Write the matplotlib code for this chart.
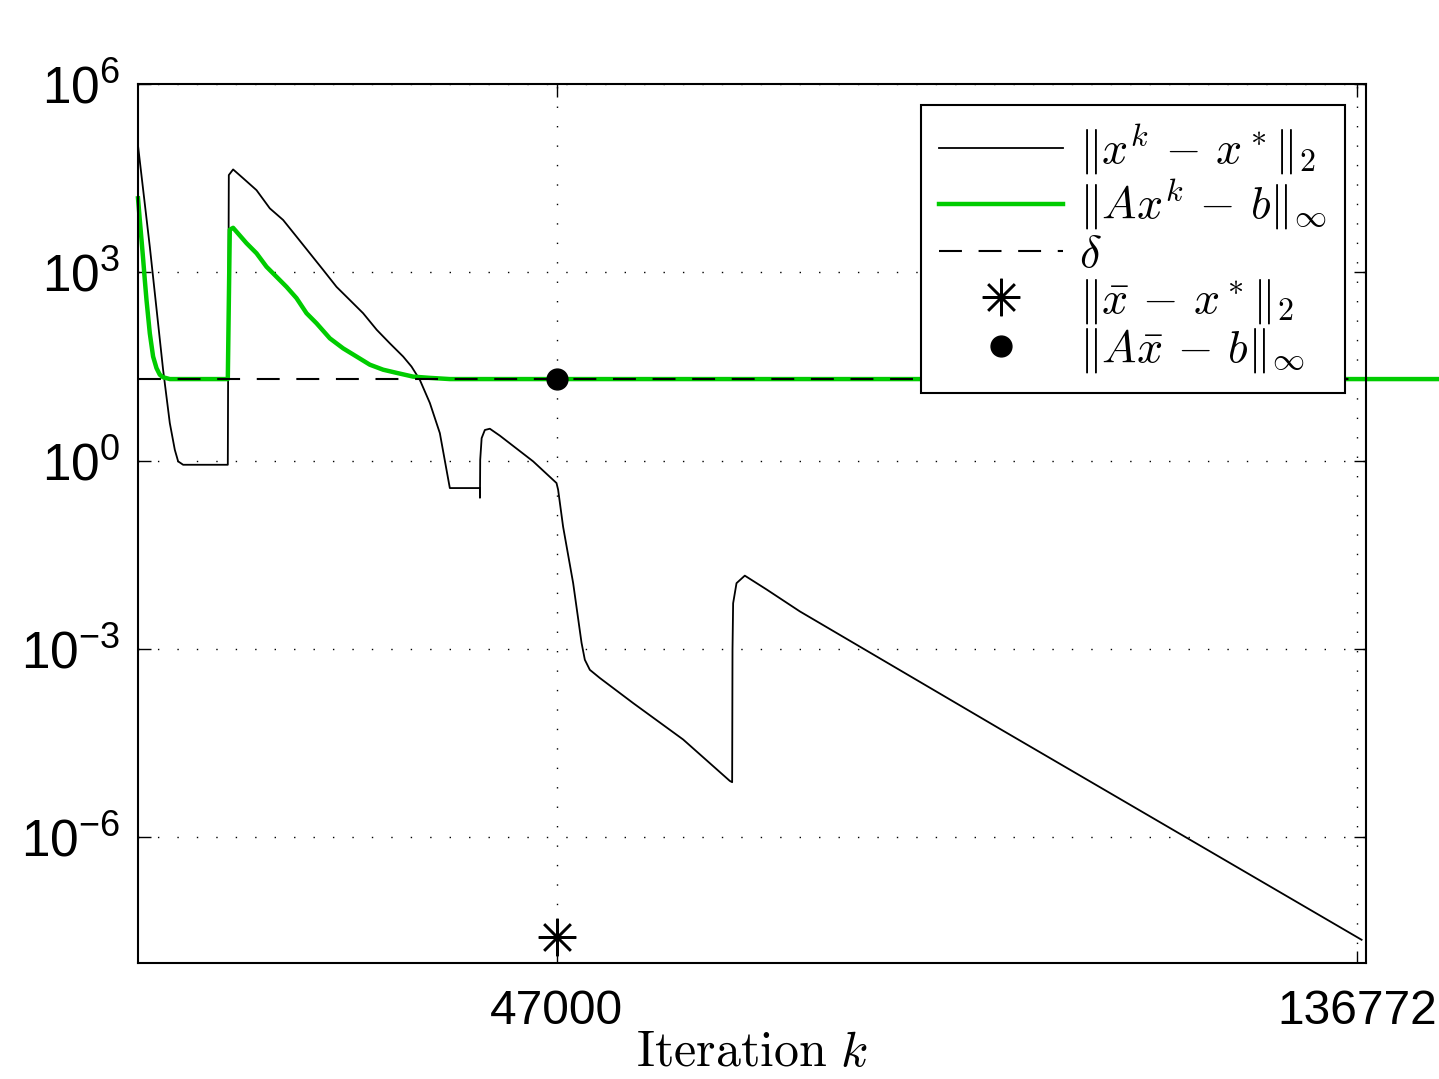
import numpy as np
import matplotlib
matplotlib.use("Agg")
import matplotlib.pyplot as plt

plt.rcParams["font.family"] = ["Liberation Sans", "DejaVu Sans"]
plt.rcParams["mathtext.fontset"] = "cm"

# ||x^k - x*||_2, (iteration, log10 value)
err_k = [0, 1324, 2816, 3569, 4130, 4503, 5064, 10077,
         10190, 10673, 11795, 13298, 14791, 16285, 17786, 19280, 20775, 22275,
         23770, 25260, 26790, 28260, 29750, 30690, 31620, 32750, 33870, 34990,
         38370, 38372, 38400, 38560, 38920, 39480, 40600, 44340, 46960,
         47140, 47700, 48830, 49770, 50140, 50700, 51820, 55560, 61170, 66410,
         66670, 66710, 66780, 67160, 68090, 70530, 74270, 96710, 137300]
err_log = [5.02, 3.41, 1.45, 0.60, 0.175, -0.01, -0.064, -0.064,
           4.55, 4.64, 4.50, 4.31, 4.02, 3.835, 3.57, 3.305, 3.04, 2.77,
           2.56, 2.35, 2.085, 1.87, 1.66, 1.50, 1.29, 0.92, 0.44, -0.435,
           -0.435, -0.59, 0.016, 0.36, 0.49, 0.51, 0.40, -0.01, -0.355,
           -0.46, -1.05, -1.95, -2.90, -3.17, -3.33, -3.46, -3.86, -4.44, -5.10,
           -5.12, -3.01, -2.27, -1.95, -1.83, -2.05, -2.40, -4.27, -7.63]

# ||A x^k - b||_inf
res_k = [0, 202, 393, 584, 763, 954, 1324, 1694, 2076, 2446, 2816, 3569, 10077,
         10300, 10673, 12176, 13298, 14420, 15542, 16664, 17786, 18908, 20030,
         21524, 23020, 24520, 26013, 27510, 29010, 30870, 32750, 35000, 150000]
res_log = [4.18, 3.835, 3.52, 3.20, 2.88, 2.56, 2.03, 1.66, 1.475, 1.37, 1.33, 1.301, 1.301,
           3.68, 3.71, 3.465, 3.305, 3.09, 2.93, 2.77, 2.59, 2.35, 2.19,
           1.95, 1.79, 1.66, 1.53, 1.45, 1.40, 1.34, 1.32, 1.301, 1.301]

delta = 20.0
k_bar = 47000
xbar_err = 2.6e-8
xbar_res = 20.0

x_ticks = [47000, 136772]
y_ticks = [1e-6, 1e-3, 1e0, 1e3, 1e6]
y_ticklabels = [r"$\mathdefault{10^{-6}}$", r"$\mathdefault{10^{-3}}$",
                r"$\mathdefault{10^{0}}$", r"$\mathdefault{10^{3}}$",
                r"$\mathdefault{10^{6}}$"]

fig = plt.figure(figsize=(14.39, 10.79), dpi=100)
ax = fig.add_axes([0.0959, 0.1075, 0.8534, 0.8146])

ax.semilogy(err_k, 10 ** np.array(err_log), color="k", lw=1.3,
            label=r"$\|x^k\, -\, x^*\|_2$")
ax.semilogy(res_k, 10 ** np.array(res_log), color="#00cc00", lw=3.2, clip_on=False,
            label=r"$\|Ax^k\, -\, b\|_\infty$")
ax.axhline(delta, color="k", lw=1.5, dashes=(11, 8), label=r"$\delta$")
ax.plot([k_bar], [xbar_err], linestyle="none", marker=(8, 2, 0), markersize=27,
        markeredgewidth=1.8, color="k", label=r"$\|\bar{x}\, -\, x^*\|_2$")
ax.plot([k_bar], [xbar_res], linestyle="none", marker="o", markersize=15,
        color="k", label=r"$\|A\bar{x}\, -\, b\|_\infty$")

ax.set_xlim(0, 137800)
ax.set_ylim(1e-8, 1e6)
ax.set_xticks(x_ticks)
ax.set_xticklabels([str(v) for v in x_ticks])
ax.set_yticks(y_ticks)
ax.set_yticklabels(y_ticklabels)
ax.minorticks_off()
ax.tick_params(direction="in", length=9, width=1, top=True, right=True)
ax.tick_params(axis="x", pad=19, labelsize=34.5)
ax.tick_params(axis="y", pad=13, labelsize=37)
ax.grid(True, color="k", lw=1, linestyle=(0, (1, 13)))
for sp in ax.spines.values():
    sp.set_linewidth(1.5)

ax.set_xlabel(r"$\mathrm{Iteration}\ k$", fontsize=36, labelpad=-3)

leg = ax.legend(loc="upper right", fontsize=33, handlelength=2.7, handletextpad=0.35,
                labelspacing=0.0, borderaxespad=0.45, borderpad=0.4,
                fancybox=False, framealpha=1, edgecolor="k")
leg.get_frame().set_linewidth(1.5)

fig.savefig("out.png", dpi=100)
